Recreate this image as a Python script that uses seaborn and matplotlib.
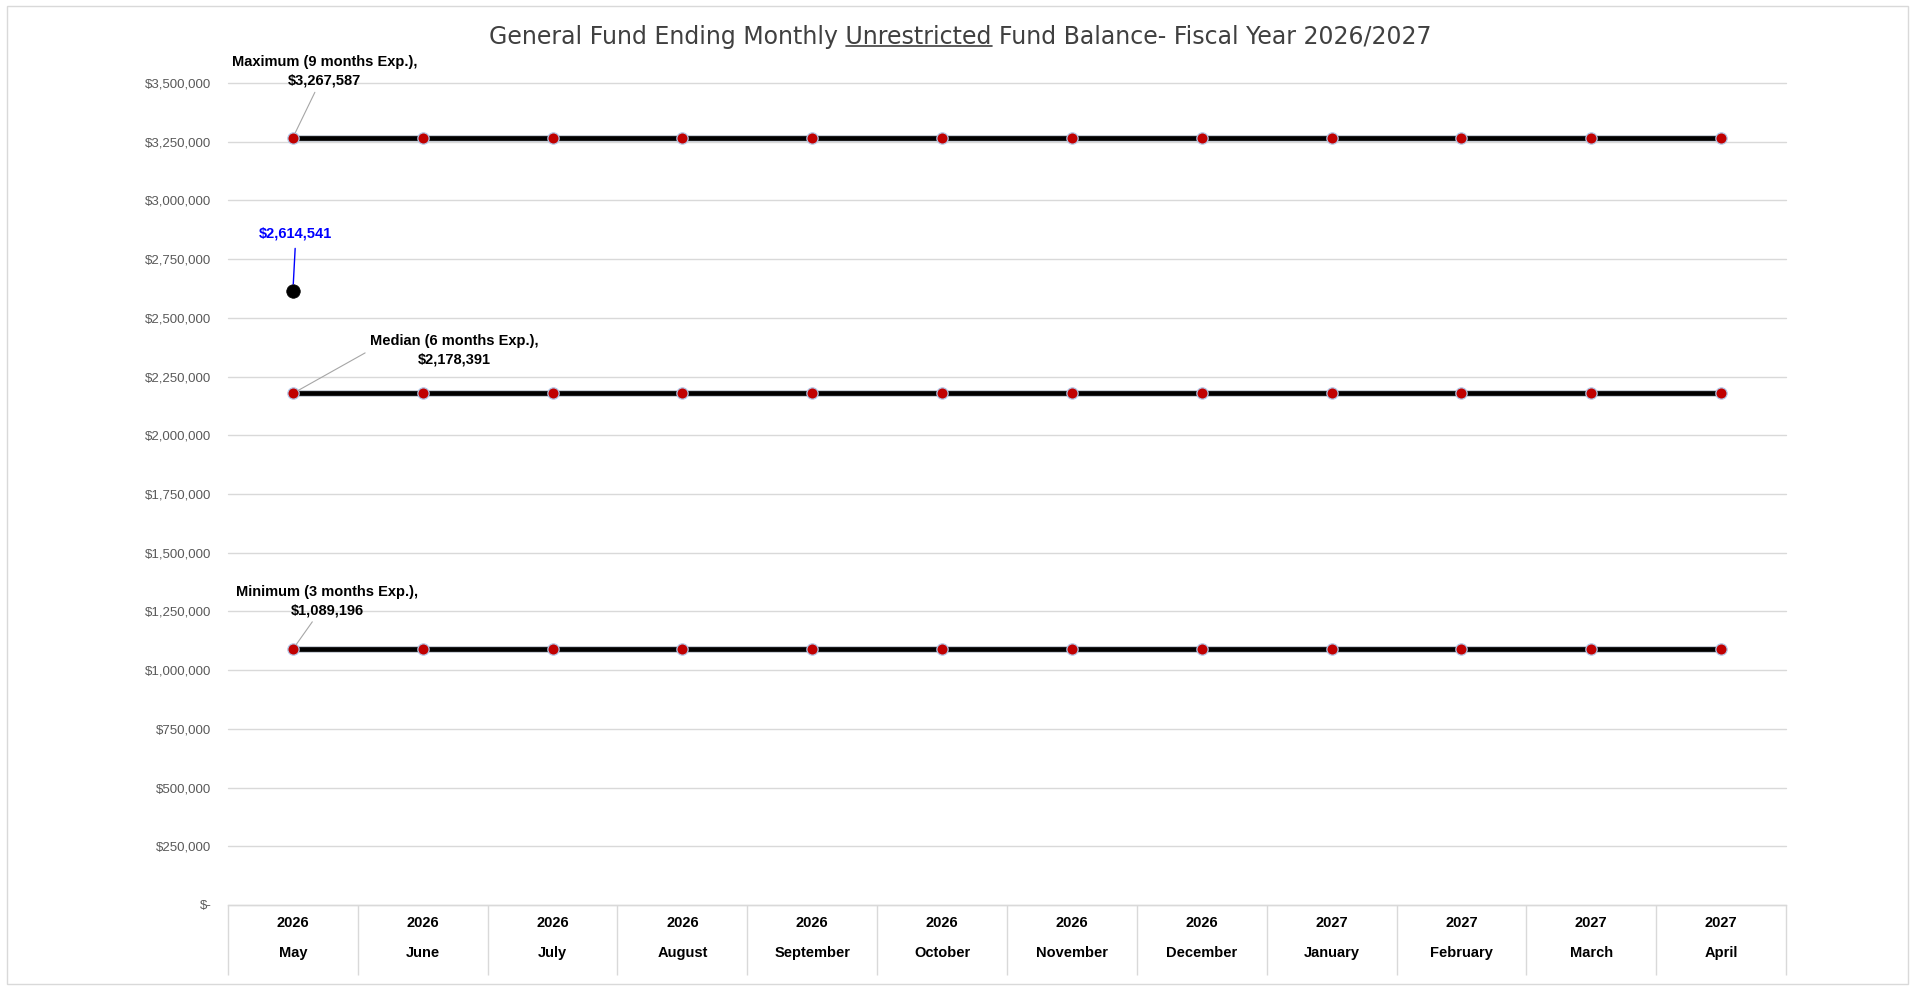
import numpy as np
import pandas as pd
import matplotlib
matplotlib.use("Agg")
import matplotlib.pyplot as plt
import seaborn as sns
import matplotlib.patheffects as pe
from matplotlib.ticker import FuncFormatter, MultipleLocator
from matplotlib.patches import Rectangle
from matplotlib.lines import Line2D

# ---------------- data ----------------
months = ["May", "June", "July", "August", "September", "October",
          "November", "December", "January", "February", "March", "April"]
years = ["2026", "2026", "2026", "2026", "2026", "2026",
         "2026", "2026", "2027", "2027", "2027", "2027"]
maximum = [3267587, 3267587, 3267587, 3267587, 3267587, 3267587,
           3267587, 3267587, 3267587, 3267587, 3267587, 3267587]
median = [2178391, 2178391, 2178391, 2178391, 2178391, 2178391,
          2178391, 2178391, 2178391, 2178391, 2178391, 2178391]
minimum = [1089196, 1089196, 1089196, 1089196, 1089196, 1089196,
           1089196, 1089196, 1089196, 1089196, 1089196, 1089196]
actual = [2614541]          # only May has an actual value
actual_months = ["May"]

title_text = "General Fund Ending Monthly Unrestricted Fund Balance- Fiscal Year 2026/2027"

# ---------------- style ----------------
sns.set_theme(style="white")
plt.rcParams["font.family"] = ["Liberation Sans", "DejaVu Sans"]

W, H = 1921, 989
fig = plt.figure(figsize=(W / 100, H / 100), dpi=100)
fig.patch.set_facecolor("white")
ax = fig.add_axes([228 / W, (H - 905) / H, (1786 - 228) / W, (905 - 83) / H])

idx = list(range(len(months)))
df = pd.DataFrame({
    "idx": idx * 3,
    "value": maximum + median + minimum,
    "series": ["Maximum"] * 12 + ["Median"] * 12 + ["Minimum"] * 12,
})

line_pe = [pe.Stroke(linewidth=5.0, foreground="#C9CED6"), pe.Normal()]
for name in ["Maximum", "Median", "Minimum"]:
    sub = df[df["series"] == name]
    sns.lineplot(data=sub, x="idx", y="value", ax=ax, color="black",
                 linewidth=3.4, estimator=None, legend=False,
                 path_effects=line_pe, zorder=3)
    sns.scatterplot(data=sub, x="idx", y="value", ax=ax, color="#C00000",
                    s=66, edgecolor="#B4C7E7", linewidth=0.9, legend=False,
                    zorder=4)

act_idx = [months.index(m) for m in actual_months]
sns.scatterplot(x=act_idx, y=actual, ax=ax, color="black", s=95,
                edgecolor="black", linewidth=0.5, legend=False, zorder=5)

# ---------------- axes ----------------
ax.set_xlim(-0.5, 11.5)
ax.set_ylim(0, 3500000)
ax.yaxis.set_major_locator(MultipleLocator(250000))
ax.yaxis.set_major_formatter(FuncFormatter(lambda v, p: "$-" if v == 0 else f"${v:,.0f}"))
ax.grid(axis="y", color="#D9D9D9", linewidth=1.0)
ax.grid(axis="x", visible=False)
for gl in ax.get_ygridlines():
    gl.set_clip_on(False)
for s in ["top", "right", "left"]:
    ax.spines[s].set_visible(False)
ax.spines["bottom"].set_color("#D9D9D9")
ax.spines["bottom"].set_linewidth(1.0)
ax.set_xlabel("")
ax.set_ylabel("")

ax.tick_params(axis="y", length=0, pad=12, labelsize=9.5, labelcolor="#595959")
ax.set_xticks(idx)
ax.set_xticklabels([f"{y}\n{m}" for y, m in zip(years, months)])
ax.tick_params(axis="x", length=0, pad=8, labelsize=10.5, labelcolor="black")
for lbl in ax.get_xticklabels():
    lbl.set_fontweight("bold")
    lbl.set_linespacing(2.45)

ax.vlines(np.arange(-0.5, 12, 1), 0, -70 / 822, transform=ax.get_xaxis_transform(),
          colors="#D9D9D9", linewidth=1.0, clip_on=False)

# ---------------- annotations ----------------
lead = dict(arrowstyle="-", color="#A6A6A6", lw=0.8, shrinkA=1, shrinkB=4)
ax.annotate(f"Maximum (9 months Exp.),\n${maximum[0]:,}", xy=(0, maximum[0]),
            xytext=(32, 66), textcoords="offset pixels", ha="center", va="center",
            fontsize=10.5, fontweight="bold", linespacing=1.4, color="black",
            arrowprops=lead, zorder=6)
ax.annotate(f"Median (6 months Exp.),\n${median[0]:,}", xy=(0, median[0]),
            xytext=(161, 43), textcoords="offset pixels", ha="center", va="center",
            fontsize=10.5, fontweight="bold", linespacing=1.4, color="black",
            arrowprops=dict(lead, relpos=(0, 0.5)), zorder=6)
ax.annotate(f"Minimum (3 months Exp.),\n${minimum[0]:,}", xy=(0, minimum[0]),
            xytext=(34, 48), textcoords="offset pixels", ha="center", va="center",
            fontsize=10.5, fontweight="bold", linespacing=1.4, color="black",
            arrowprops=lead, zorder=6)
ax.annotate(f"${actual[0]:,}", xy=(act_idx[0], actual[0]),
            xytext=(3, 57), textcoords="offset pixels", ha="center", va="center",
            fontsize=10.5, fontweight="bold", color="#0000FF",
            arrowprops=dict(arrowstyle="-", color="#0000FF", lw=1.0, shrinkA=3, shrinkB=5),
            zorder=6)

# ---------------- title with underline ----------------
tprops = dict(fontsize=17, color="#404040", family=["DejaVu Sans"])
title = fig.text(0.5, 1 - 37 / H, title_text, ha="center", va="center", **tprops)
fig.canvas.draw()
r = fig.canvas.get_renderer()
bb = title.get_window_extent(r)

def width_of(s):
    t = fig.text(0, 0, s, **tprops)
    w = t.get_window_extent(r).width
    t.remove()
    return w

w1 = width_of("General Fund Ending Monthly")
w2 = width_of("General Fund Ending Monthly Unrestricted")
sp = width_of("a b") - width_of("ab")
x0 = bb.x0 + w1 + sp
x1 = bb.x0 + w2
yu = bb.y0 + 3
fig.add_artist(Line2D([x0 / W, x1 / W], [yu / H, yu / H], transform=fig.transFigure,
                      color="#404040", linewidth=1.2))

# ---------------- outer border ----------------
fig.patches.append(Rectangle((7 / W, 5 / H), 1901 / W, 978 / H, transform=fig.transFigure,
                             fill=False, edgecolor="#D9D9D9", linewidth=1.0))

fig.savefig("out.png", dpi=100)
